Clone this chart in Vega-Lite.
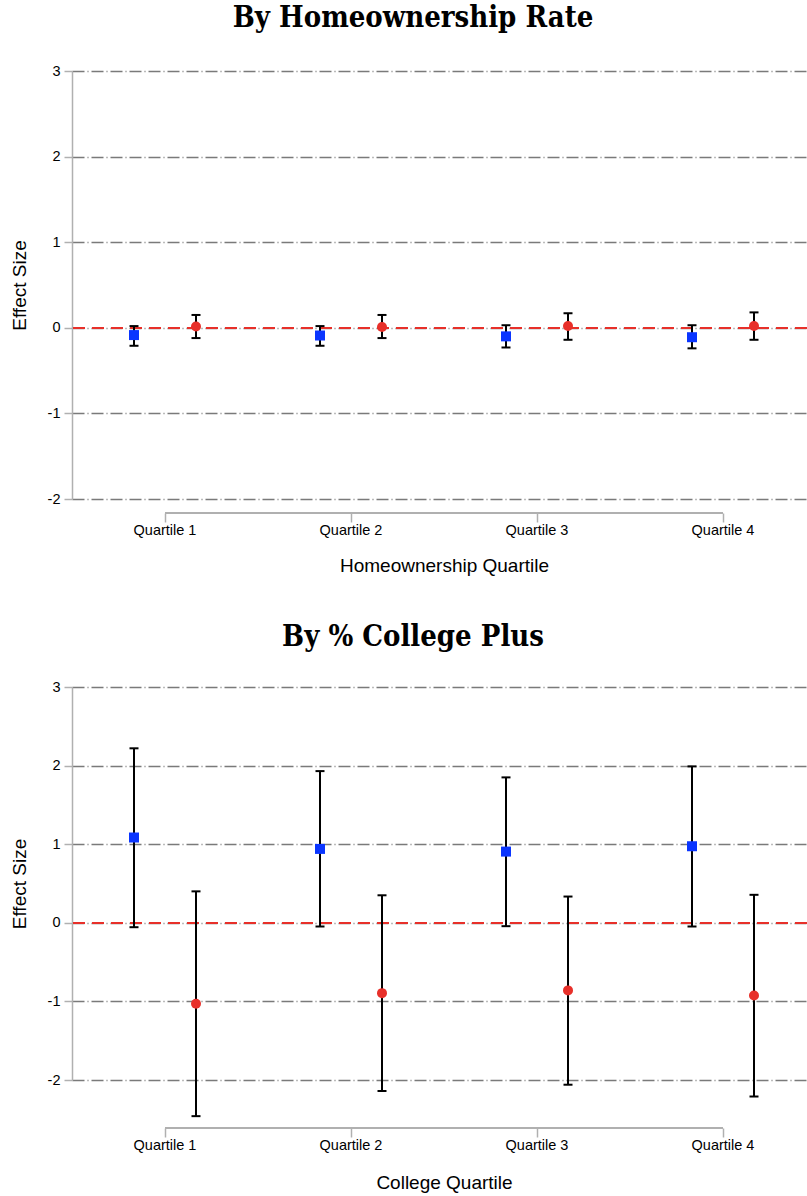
{
  "$schema": "https://vega.github.io/schema/vega-lite/v6.json",
  "padding": {"left": 10, "top": 4, "right": 0, "bottom": 0},
  "background": "white",
  "spacing": 46,
  "datasets": {
    "home": [
      {"quartile": "Quartile 1", "group": "Series 1", "est": -0.085, "lo": -0.21, "hi": 0.02},
      {"quartile": "Quartile 1", "group": "Series 2", "est": 0.015, "lo": -0.12, "hi": 0.15},
      {"quartile": "Quartile 2", "group": "Series 1", "est": -0.09, "lo": -0.21, "hi": 0.02},
      {"quartile": "Quartile 2", "group": "Series 2", "est": 0.01, "lo": -0.12, "hi": 0.15},
      {"quartile": "Quartile 3", "group": "Series 1", "est": -0.1, "lo": -0.23, "hi": 0.03},
      {"quartile": "Quartile 3", "group": "Series 2", "est": 0.02, "lo": -0.14, "hi": 0.17},
      {"quartile": "Quartile 4", "group": "Series 1", "est": -0.11, "lo": -0.24, "hi": 0.03},
      {"quartile": "Quartile 4", "group": "Series 2", "est": 0.02, "lo": -0.14, "hi": 0.18}
    ],
    "college": [
      {"quartile": "Quartile 1", "group": "Series 1", "est": 1.085, "lo": -0.056, "hi": 2.22},
      {"quartile": "Quartile 1", "group": "Series 2", "est": -1.03, "lo": -2.46, "hi": 0.4},
      {"quartile": "Quartile 2", "group": "Series 1", "est": 0.94, "lo": -0.047, "hi": 1.93},
      {"quartile": "Quartile 2", "group": "Series 2", "est": -0.895, "lo": -2.14, "hi": 0.35},
      {"quartile": "Quartile 3", "group": "Series 1", "est": 0.906, "lo": -0.043, "hi": 1.85},
      {"quartile": "Quartile 3", "group": "Series 2", "est": -0.86, "lo": -2.06, "hi": 0.334},
      {"quartile": "Quartile 4", "group": "Series 1", "est": 0.974, "lo": -0.047, "hi": 1.99},
      {"quartile": "Quartile 4", "group": "Series 2", "est": -0.924, "lo": -2.21, "hi": 0.356}
    ]
  },
  "config": {
    "view": {"stroke": null},
    "font": "Liberation Sans",
    "title": {"font": "DejaVu Serif Condensed", "fontWeight": "bold", "fontSize": 29, "frame": "bounds", "anchor": "middle", "offset": 30, "color": "black"},
    "axis": {
      "labelFont": "Liberation Sans", "labelFontSize": 14.5, "labelColor": "black",
      "titleFont": "Liberation Sans", "titleFontSize": 19, "titleFontWeight": "normal", "titleColor": "black",
      "tickColor": "#b0b0b0", "tickWidth": 1.5, "domainColor": "#b0b0b0", "domainWidth": 1.5
    }
  },
  "vconcat": [
    {
      "title": "By Homeownership Rate",
      "width": 735,
      "height": 428,
      "data": {"name": "home"},
      "encoding": {
        "x": {"field": "quartile", "type": "nominal", "title": "Homeownership Quartile",
              "scale": {"type": "band", "range": [0, 744], "paddingInner": 0, "paddingOuter": 0},
              "axis": {"domain": false, "offset": 14, "tickSize": 9, "labelPadding": 1, "titlePadding": 20, "labelAngle": 0, "grid": false}},
        "y": {"type": "quantitative", "scale": {"domain": [-2, 3], "nice": false, "zero": false},
              "axis": {"values": [-2, -1, 0, 1, 2, 3], "labelExpr": "'' + datum.value", "title": "Effect Size", "tickSize": 8, "labelPadding": 4, "titlePadding": 18, "labelFlush": false,
                       "grid": true, "gridColor": "#7a7a7a", "gridWidth": 1.3, "gridDash": [12, 3, 1, 3]}}
      },
      "layer": [
        {"mark": {"type": "rule", "color": "#e8302a", "strokeWidth": 1.3, "strokeDash": [12, 7]},
         "encoding": {"x": null, "y": {"datum": 0}}},
        {"mark": {"type": "rule", "color": "#b0b0b0", "strokeWidth": 1.5},
         "encoding": {"x": {"datum": "Quartile 1"}, "x2": {"datum": "Quartile 4"}, "y": {"datum": -2.1636}}},
        {"mark": {"type": "rule", "color": "black", "strokeWidth": 2},
         "encoding": {"xOffset": {"field": "group", "type": "nominal", "scale": {"paddingOuter": 0.5, "paddingInner": 0}}, "y": {"field": "lo", "type": "quantitative"}, "y2": {"field": "hi"}}},
        {"mark": {"type": "tick", "orient": "horizontal", "color": "black", "size": 9, "thickness": 2, "opacity": 1},
         "encoding": {"xOffset": {"field": "group", "type": "nominal", "scale": {"paddingOuter": 0.5, "paddingInner": 0}}, "y": {"field": "lo", "type": "quantitative"}}},
        {"mark": {"type": "tick", "orient": "horizontal", "color": "black", "size": 9, "thickness": 2, "opacity": 1},
         "encoding": {"xOffset": {"field": "group", "type": "nominal", "scale": {"paddingOuter": 0.5, "paddingInner": 0}}, "y": {"field": "hi", "type": "quantitative"}}},
        {"mark": {"type": "point", "filled": true, "opacity": 1, "size": 100},
         "encoding": {"xOffset": {"field": "group", "type": "nominal", "scale": {"paddingOuter": 0.5, "paddingInner": 0}}, "y": {"field": "est", "type": "quantitative"},
                      "color": {"field": "group", "type": "nominal", "scale": {"domain": ["Series 1", "Series 2"], "range": ["#0a35ff", "#e8302a"]}, "legend": null},
                      "shape": {"field": "group", "type": "nominal", "scale": {"domain": ["Series 1", "Series 2"], "range": ["square", "circle"]}, "legend": null}}}
      ]
    },
    {
      "title": {"text": "By % College Plus", "offset": 27.5},
      "width": 735,
      "height": 393,
      "data": {"name": "college"},
      "encoding": {
        "x": {"field": "quartile", "type": "nominal", "title": "College Quartile",
              "scale": {"type": "band", "range": [0, 744], "paddingInner": 0, "paddingOuter": 0},
              "axis": {"domain": false, "offset": 48, "tickSize": 9, "labelPadding": 1, "titlePadding": 22, "labelAngle": 0, "grid": false}},
        "y": {"type": "quantitative", "scale": {"domain": [-2, 3], "nice": false, "zero": false},
              "axis": {"values": [-2, -1, 0, 1, 2, 3], "labelExpr": "'' + datum.value", "title": "Effect Size", "tickSize": 8, "labelPadding": 4, "titlePadding": 18, "labelFlush": false,
                       "grid": true, "gridColor": "#7a7a7a", "gridWidth": 1.3, "gridDash": [12, 3, 1, 3]}}
      },
      "layer": [
        {"mark": {"type": "rule", "color": "#e8302a", "strokeWidth": 1.3, "strokeDash": [12, 7]},
         "encoding": {"x": null, "y": {"datum": 0}}},
        {"mark": {"type": "rule", "color": "#b0b0b0", "strokeWidth": 1.5},
         "encoding": {"x": {"datum": "Quartile 1"}, "x2": {"datum": "Quartile 4"}, "y": {"datum": -2.614}}},
        {"mark": {"type": "rule", "color": "black", "strokeWidth": 2},
         "encoding": {"xOffset": {"field": "group", "type": "nominal", "scale": {"paddingOuter": 0.5, "paddingInner": 0}}, "y": {"field": "lo", "type": "quantitative"}, "y2": {"field": "hi"}}},
        {"mark": {"type": "tick", "orient": "horizontal", "color": "black", "size": 9, "thickness": 2, "opacity": 1},
         "encoding": {"xOffset": {"field": "group", "type": "nominal", "scale": {"paddingOuter": 0.5, "paddingInner": 0}}, "y": {"field": "lo", "type": "quantitative"}}},
        {"mark": {"type": "tick", "orient": "horizontal", "color": "black", "size": 9, "thickness": 2, "opacity": 1},
         "encoding": {"xOffset": {"field": "group", "type": "nominal", "scale": {"paddingOuter": 0.5, "paddingInner": 0}}, "y": {"field": "hi", "type": "quantitative"}}},
        {"mark": {"type": "point", "filled": true, "opacity": 1, "size": 100},
         "encoding": {"xOffset": {"field": "group", "type": "nominal", "scale": {"paddingOuter": 0.5, "paddingInner": 0}}, "y": {"field": "est", "type": "quantitative"},
                      "color": {"field": "group", "type": "nominal", "scale": {"domain": ["Series 1", "Series 2"], "range": ["#0a35ff", "#e8302a"]}, "legend": null},
                      "shape": {"field": "group", "type": "nominal", "scale": {"domain": ["Series 1", "Series 2"], "range": ["square", "circle"]}, "legend": null}}}
      ]
    }
  ]
}
